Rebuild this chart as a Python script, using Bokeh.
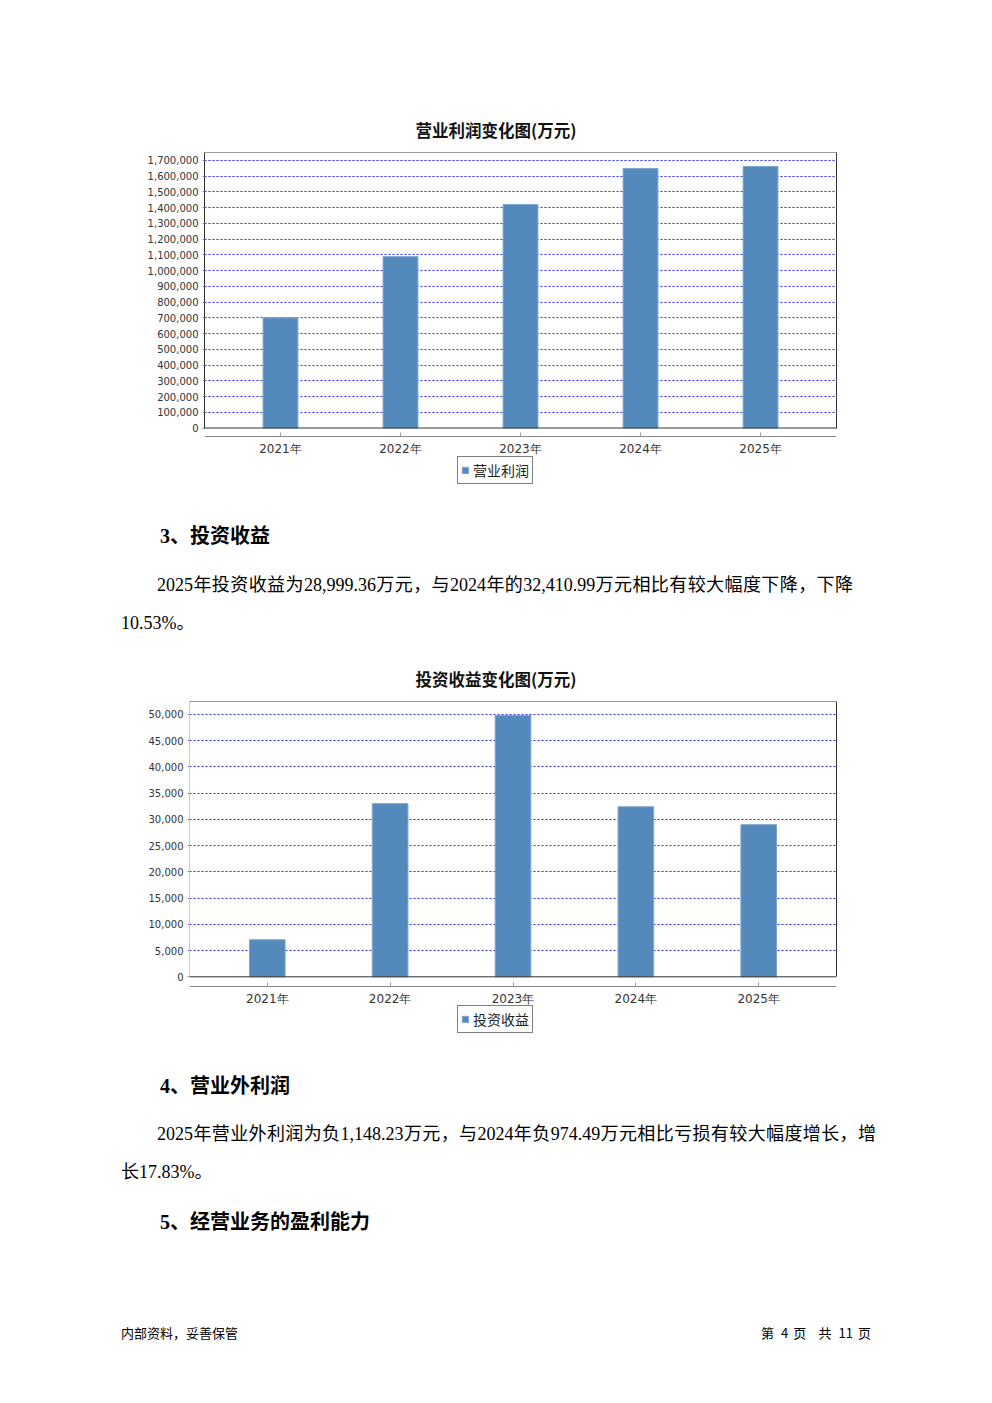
from bokeh.plotting import figure
from bokeh.models import (FactorRange, Range1d, FixedTicker, NumeralTickFormatter, Span,
                          Legend, LegendItem, Div, ColumnDataSource, LinearAxis)
from bokeh.layouts import column
from bokeh.embed import file_html
from bokeh.resources import INLINE

# ---------------- data ----------------
years = ["2021年", "2022年", "2023年", "2024年", "2025年"]
op_profit = [700000, 1089000, 1420000, 1649000, 1662000]          # 营业利润 (万元)
inv_income = [7060, 33010, 49810, 32410.99, 28999.36]             # 投资收益 (万元)
op_ticks = list(range(0, 1700001, 100000))
inv_ticks = list(range(0, 50001, 5000))

title1 = "营业利润变化图(万元)"
title2 = "投资收益变化图(万元)"
legend1 = "营业利润"
legend2 = "投资收益"

head3 = "3、投资收益"
para3 = ["2025年投资收益为28,999.36万元，与2024年的32,410.99万元相比有较大幅度下降，下降",
         "10.53%。"]
head4 = "4、营业外利润"
para4 = ["2025年营业外利润为负1,148.23万元，与2024年负974.49万元相比亏损有较大幅度增长，增",
         "长17.83%。"]
head5 = "5、经营业务的盈利能力"
footer_left = "内部资料，妥善保管"
footer_right = "第 4 页  共 11 页"

BAR = "#5489bc"
GRID = "#2a2aff"
DARK = "#333333"
W = 992


def make_chart(title, label, values, ticks, ymin, ymax, axis_y, height, top_b, left_b,
               right_b, bottom_b, title_offset, legend_loc, yaxis_color):
    p = figure(x_range=FactorRange(factors=years, range_padding=0.133, range_padding_units="absolute"),
               y_range=Range1d(ymin, ymax), width=W, height=height,
               output_backend="svg", toolbar_location=None,
               min_border_left=left_b, min_border_right=right_b,
               min_border_top=top_b, min_border_bottom=bottom_b)
    p.outline_line_color = None
    p.background_fill_color = "white"
    p.border_fill_color = "white"

    src = ColumnDataSource(dict(x=years, top=values))
    r = p.vbar(x="x", top="top", bottom=0, width=0.29, source=src,
               fill_color=BAR, line_color="#7ea5cd", line_width=1)

    # title
    p.title.text = title
    p.title.align = "left"
    p.title.offset = title_offset
    p.title.text_font = "Noto Sans CJK SC"
    p.title.text_font_size = "16.5px"
    p.title.text_font_style = "bold"
    p.title.text_color = "#111111"
    p.title.standoff = 22

    # grid
    p.xgrid.grid_line_color = None
    p.ygrid.ticker = FixedTicker(ticks=ticks[1:])
    p.ygrid.grid_line_color = GRID
    p.ygrid.grid_line_dash = "2 2"
    p.ygrid.grid_line_width = 1

    # y axis
    p.yaxis.ticker = FixedTicker(ticks=ticks)
    p.yaxis.formatter = NumeralTickFormatter(format="0,0")
    p.yaxis.bounds = (0, ymax)
    p.yaxis.axis_line_color = yaxis_color
    p.yaxis.major_tick_line_color = "#999999"
    p.yaxis.major_tick_out = 2
    p.yaxis.major_tick_in = 0
    p.yaxis.minor_tick_line_color = None
    p.yaxis.major_label_text_font = "DejaVu Sans"
    p.yaxis.major_label_text_font_size = "10px"
    p.yaxis.major_label_text_color = "#333333"
    p.yaxis.major_label_standoff = 4

    # right frame edge as a bounded, label-less axis
    ra = LinearAxis(ticker=FixedTicker(ticks=[]), bounds=(0, ymax),
                    axis_line_color=DARK, major_tick_line_color=None,
                    minor_tick_line_color=None)
    p.add_layout(ra, "right")

    # x axis, drawn a little below the plot area
    p.xaxis.fixed_location = axis_y
    p.xaxis.axis_line_color = "#888888"
    p.xaxis.major_tick_line_color = "#999999"
    p.xaxis.major_tick_in = 4
    p.xaxis.major_tick_out = 0
    p.xaxis.major_label_text_font = "DejaVu Sans"
    p.xaxis.major_label_text_font_size = "12px"
    p.xaxis.major_label_text_color = "#333333"
    p.xaxis.major_label_standoff = 5

    # frame lines (top, plot bottom at zero)
    p.add_layout(Span(location=ymax, dimension="width", line_color=DARK, line_width=1))
    p.add_layout(Span(location=0, dimension="width", line_color=DARK, line_width=1))

    lg = Legend(items=[LegendItem(label=label, renderers=[r])], location=legend_loc,
                glyph_width=8, glyph_height=8, padding=3, margin=0, label_standoff=4,
                label_text_font="Noto Sans CJK SC", label_text_font_size="14px",
                label_text_color="#222222", label_height=14,
                border_line_color="#000000", border_line_width=1,
                background_fill_color="white", background_fill_alpha=1)
    p.add_layout(lg)
    return p


p1 = make_chart(title1, legend1, op_profit, op_ticks, -397183, 1750800, -54017, 520,
                152, 204, W - 836, 30, 211, (253, 6), DARK)
p2 = make_chart(title2, legend2, inv_income, inv_ticks, -11380, 52478, -1849, 410,
                51, 189, W - 836, 24, 226, (268, 3), "#cccccc")

BODY = "'Liberation Serif','Noto Sans CJK SC'"
HEAD = "'Liberation Serif','Noto Sans CJK SC'"
FOOT = "'Noto Sans CJK SC'"


def line(txt, left, top, size, family, bold=False, width=None):
    st = (f"position:absolute;top:{top}px;left:{left}px;font-size:{size}px;line-height:{size}px;"
          f"white-space:pre;font-family:{family};color:#000;"
          f"font-weight:{'bold' if bold else 'normal'};")
    if width:
        st += f"width:{width}px;text-align:justify;text-align-last:justify;"
    return f'<div style="{st}">{txt}</div>'


def block(items, height):
    html = (f'<div style="position:relative;width:{W}px;height:{height}px;margin:0;padding:0;">'
            + "".join(items) + "</div>")
    return Div(text=html, width=W, height=height, margin=0)


d1 = block([
    line(head3, 160, 6, 20, HEAD, bold=True),
    line(para3[0], 157, 56, 18, BODY, width=696),
    line(para3[1], 121, 94, 18, BODY),
], 130)

d2 = block([
    line(head4, 160, 16, 20, HEAD, bold=True),
    line(para4[0], 157, 65, 18, BODY, width=719),
    line(para4[1], 121, 103, 18, BODY),
    line(head5, 160, 152, 20, HEAD, bold=True),
    line(footer_left, 121, 266, 13, FOOT),
    line(footer_right, 761, 266, 13, FOOT, width=110),
], 340)

layout = column(column(p1), d1, column(p2), d2, spacing=0)
open("out.html", "w").write(file_html(layout, INLINE))
